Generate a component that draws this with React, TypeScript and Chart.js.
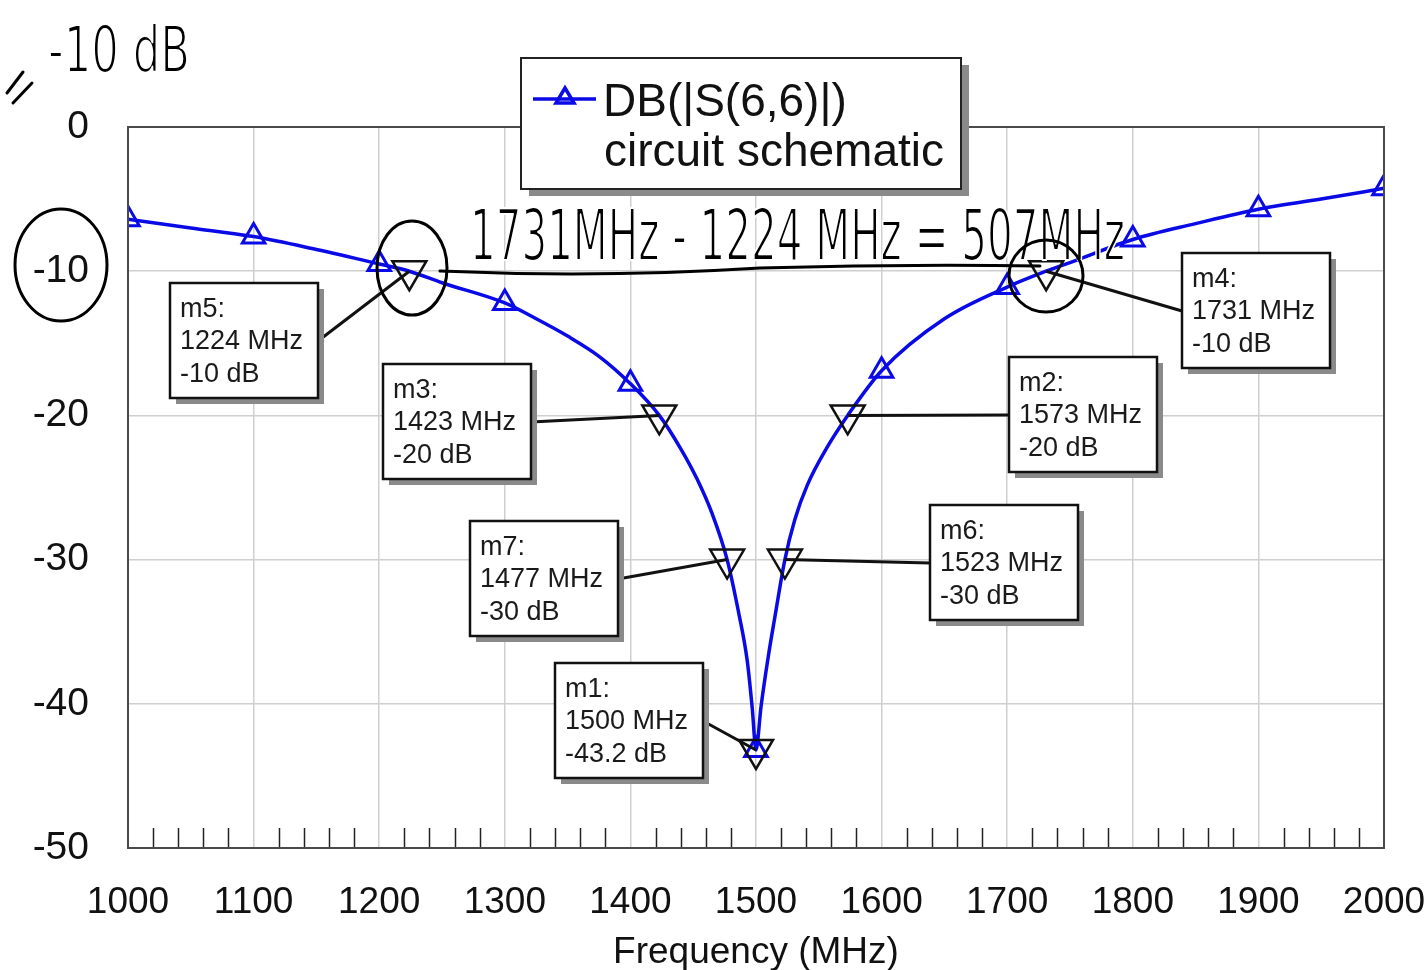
import React, { useEffect, useRef } from "react";
import { Chart, registerables } from "chart.js";

Chart.register(...registerables);

// ---- Data ----
const freqs = [1000, 1050, 1100, 1150, 1200, 1224, 1250, 1300, 1325, 1350, 1375, 1400, 1423, 1440, 1453, 1465, 1477, 1486, 1493, 1497, 1500, 1504, 1510, 1515, 1523, 1531, 1541, 1556, 1573, 1600, 1650, 1700, 1731, 1750, 1800, 1850, 1900, 1950, 2000];
const s66dB = [-6.4, -7.0, -7.6, -8.5, -9.5, -10, -10.8, -12.2, -13.3, -14.5, -15.9, -17.8, -20, -22.3, -24.4, -26.8, -30, -33.6, -37.0, -40.3, -43.2, -40.2, -36.6, -34.0, -30, -27.2, -24.8, -22.3, -20, -16.9, -13.3, -11.1, -10, -9.4, -7.8, -6.7, -5.7, -5.0, -4.25];

const markerNames = ["m5", "m3", "m7", "m1", "m6", "m2", "m4"];
const markerFreqs = [1224, 1423, 1477, 1500, 1523, 1573, 1731];
const markerDB = [-10, -20, -30, -43.2, -30, -20, -10];

const xTickMin = 1000;
const xTickMax = 2000;
const yTickMin = -50;
const yTickMax = 0;

const legendLine1 = "DB(|S(6,6)|)";
const legendLine2 = "circuit schematic";
const xAxisTitle = "Frequency (MHz)";
const noteTop = "-10 dB";
const noteMain = "1731MHz - 1224 MHz = 507MHz";

// ---- Layout (pixels) ----
const markerBoxPos = [
  [170, 283],
  [383, 364],
  [470, 521],
  [555, 663],
  [930, 505],
  [1009, 357],
  [1182, 253],
];
const BOX_W = 148;
const BOX_H = 115;
const FONT = '"Liberation Sans", Arial, sans-serif';
const HAND = '"DejaVu Sans Condensed", "DejaVu Sans", sans-serif';
const BLUE = "#0a0ae6";

function fitText(ctx: CanvasRenderingContext2D, text: string, x: number, baseline: number, width: number, size: number) {
  ctx.save();
  ctx.font = `200 ${size}px ${HAND}`;
  const w = ctx.measureText(text).width;
  ctx.translate(x, baseline);
  ctx.scale(width / w, 1);
  ctx.textAlign = "left";
  ctx.textBaseline = "alphabetic";
  ctx.fillStyle = "#000";
  ctx.fillText(text, 0, 0);
  // erode the glyphs so they read like pen strokes
  ctx.strokeStyle = "#fff";
  ctx.lineWidth = 2.2;
  ctx.lineJoin = "round";
  ctx.strokeText(text, 0, 0);
  ctx.restore();
}

const overlay = {
  id: "overlay",
  afterDraw(chart: any) {
    const { ctx, chartArea: a, scales } = chart;
    const x = scales.x;
    const y = scales.y;
    ctx.save();

    // minor ticks on bottom axis
    ctx.strokeStyle = "#222";
    ctx.lineWidth = 1.5;
    for (let f = xTickMin; f <= xTickMax; f += 20) {
      if (f % 100 === 0) continue;
      const px = Math.round(x.getPixelForValue(f)) + 0.5;
      ctx.beginPath();
      ctx.moveTo(px, a.bottom);
      ctx.lineTo(px, a.bottom - 20);
      ctx.stroke();
    }

    // plot border
    ctx.strokeStyle = "#4a4a4a";
    ctx.lineWidth = 2;
    ctx.strokeRect(a.left, a.top, a.right - a.left, a.bottom - a.top);

    // x axis title
    ctx.fillStyle = "#111";
    ctx.font = `37px ${FONT}`;
    ctx.textAlign = "center";
    ctx.textBaseline = "middle";
    ctx.fillText(xAxisTitle, (a.left + a.right) / 2, 953);

    // markers: leader lines, triangles, boxes
    for (let i = 0; i < markerNames.length; i++) {
      const mx = x.getPixelForValue(markerFreqs[i]);
      const my = y.getPixelForValue(markerDB[i]);
      const [bx, by] = markerBoxPos[i];
      const leftSide = bx + BOX_W < mx;
      const ax = leftSide ? bx + BOX_W : bx;
      const ay = by + 58;
      ctx.strokeStyle = "#111";
      ctx.lineWidth = 3;
      ctx.beginPath();
      ctx.moveTo(ax, ay);
      ctx.lineTo(mx, my);
      ctx.stroke();
      // inverted triangle
      ctx.lineWidth = 2.5;
      ctx.beginPath();
      ctx.moveTo(mx - 17, my - 10);
      ctx.lineTo(mx + 17, my - 10);
      ctx.lineTo(mx, my + 19);
      ctx.closePath();
      ctx.stroke();
      // box shadow
      ctx.fillStyle = "#8a8a8a";
      ctx.fillRect(bx + 6, by + 6, BOX_W, BOX_H);
      ctx.fillStyle = "#fff";
      ctx.fillRect(bx, by, BOX_W, BOX_H);
      ctx.strokeStyle = "#111";
      ctx.lineWidth = 2.5;
      ctx.strokeRect(bx, by, BOX_W, BOX_H);
      ctx.fillStyle = "#1a1a1a";
      ctx.font = `27px ${FONT}`;
      ctx.textAlign = "left";
      ctx.textBaseline = "middle";
      ctx.fillText(`${markerNames[i]}:`, bx + 10, by + 27);
      ctx.fillText(`${markerFreqs[i]} MHz`, bx + 10, by + 59);
      ctx.fillText(`${markerDB[i]} dB`, bx + 10, by + 92);
    }

    // legend box
    const lx = 521, ly = 58, lw = 440, lh = 131;
    ctx.fillStyle = "#8a8a8a";
    ctx.fillRect(lx + 8, ly + 7, lw, lh);
    ctx.fillStyle = "#fff";
    ctx.fillRect(lx, ly, lw, lh);
    ctx.strokeStyle = "#222";
    ctx.lineWidth = 2;
    ctx.strokeRect(lx, ly, lw, lh);
    ctx.strokeStyle = BLUE;
    ctx.lineWidth = 3.5;
    ctx.beginPath();
    ctx.moveTo(533, 99);
    ctx.lineTo(596, 99);
    ctx.stroke();
    ctx.beginPath();
    ctx.moveTo(565, 88);
    ctx.lineTo(574, 103);
    ctx.lineTo(556, 103);
    ctx.closePath();
    ctx.stroke();
    ctx.fillStyle = "#111";
    ctx.font = `46px ${FONT}`;
    ctx.textAlign = "left";
    ctx.textBaseline = "alphabetic";
    ctx.fillText(legendLine1, 603, 116);
    ctx.fillText(legendLine2, 604, 166);

    // hand-written notes
    ctx.strokeStyle = "#000";
    ctx.fillStyle = "#000";
    ctx.lineWidth = 3;
    ctx.lineCap = "round";
    // "=" slanted
    ctx.beginPath();
    ctx.moveTo(7, 93); ctx.lineTo(23, 72);
    ctx.moveTo(13, 103); ctx.lineTo(32, 83);
    ctx.stroke();
    fitText(ctx, noteTop, 48, 72, 142, 64);
    fitText(ctx, noteMain, 470, 260, 655, 72);
    ctx.strokeStyle = "#000";
    ctx.lineWidth = 3;
    // circles
    ctx.beginPath();
    ctx.ellipse(61, 265, 46, 56, 0, 0, Math.PI * 2);
    ctx.stroke();
    ctx.beginPath();
    ctx.ellipse(412, 268, 35, 47, 0, 0, Math.PI * 2);
    ctx.stroke();
    ctx.beginPath();
    ctx.ellipse(1046, 276, 37, 36, 0, 0, Math.PI * 2);
    ctx.stroke();
    // underline joining the two -10 dB markers
    ctx.beginPath();
    ctx.moveTo(440, 271);
    ctx.quadraticCurveTo(600, 278, 760, 268);
    ctx.quadraticCurveTo(900, 264, 1040, 266);
    ctx.stroke();

    ctx.restore();
  },
};

export default function App() {
  const ref = useRef<HTMLCanvasElement | null>(null);
  useEffect(() => {
    if (!ref.current) return;
    Chart.defaults.font.family = FONT;
    const chart = new Chart(ref.current, {
      type: "line",
      data: {
        datasets: [
          {
            label: legendLine1,
            data: freqs.map((f, i) => ({ x: f, y: s66dB[i] })),
            borderColor: BLUE,
            borderWidth: 3.5,
            backgroundColor: "rgba(0,0,0,0)",
            pointStyle: "triangle",
            pointRadius: (c: any) => (freqs[c.dataIndex] % 100 === 0 ? 13 : 0),
            pointBorderColor: BLUE,
            pointBorderWidth: 3,
            pointBackgroundColor: "rgba(0,0,0,0)",
            cubicInterpolationMode: "monotone",
            fill: false,
          },
        ],
      },
      options: {
        responsive: false,
        animation: false,
        events: [],
        layout: { padding: { left: 0, top: 127, right: 43, bottom: 0 } },
        plugins: { legend: { display: false }, tooltip: { enabled: false }, title: { display: false } },
        scales: {
          x: {
            type: "linear",
            min: xTickMin,
            max: xTickMax,
            afterFit: (s: any) => { s.height = 122; s.paddingLeft = 0; s.paddingRight = 0; },
            ticks: {
              stepSize: 100,
              padding: 33,
              color: "#111",
              font: { size: 37, family: FONT },
              maxRotation: 0,
              callback: (v: any) => String(v),
            },
            grid: { color: "#cfcfcf", lineWidth: 1.5, drawTicks: false },
            border: { display: false },
          },
          y: {
            type: "linear",
            min: yTickMin,
            max: yTickMax,
            afterFit: (s: any) => { s.width = 128; s.paddingTop = 0; s.paddingBottom = 0; },
            ticks: {
              stepSize: 10,
              padding: 39,
              color: "#111",
              font: { size: 39, family: FONT },
              callback: (v: any) => String(v),
            },
            grid: { color: "#cfcfcf", lineWidth: 1.5, drawTicks: false },
            border: { display: false },
          },
        },
      },
      plugins: [overlay],
    } as any);
    return () => chart.destroy();
  }, []);
  return (
    <div style={{ position: "fixed", left: 0, top: 0, width: 1427, height: 970, background: "#fff" }}>
      <canvas ref={ref} width={1427} height={970} />
    </div>
  );
}
